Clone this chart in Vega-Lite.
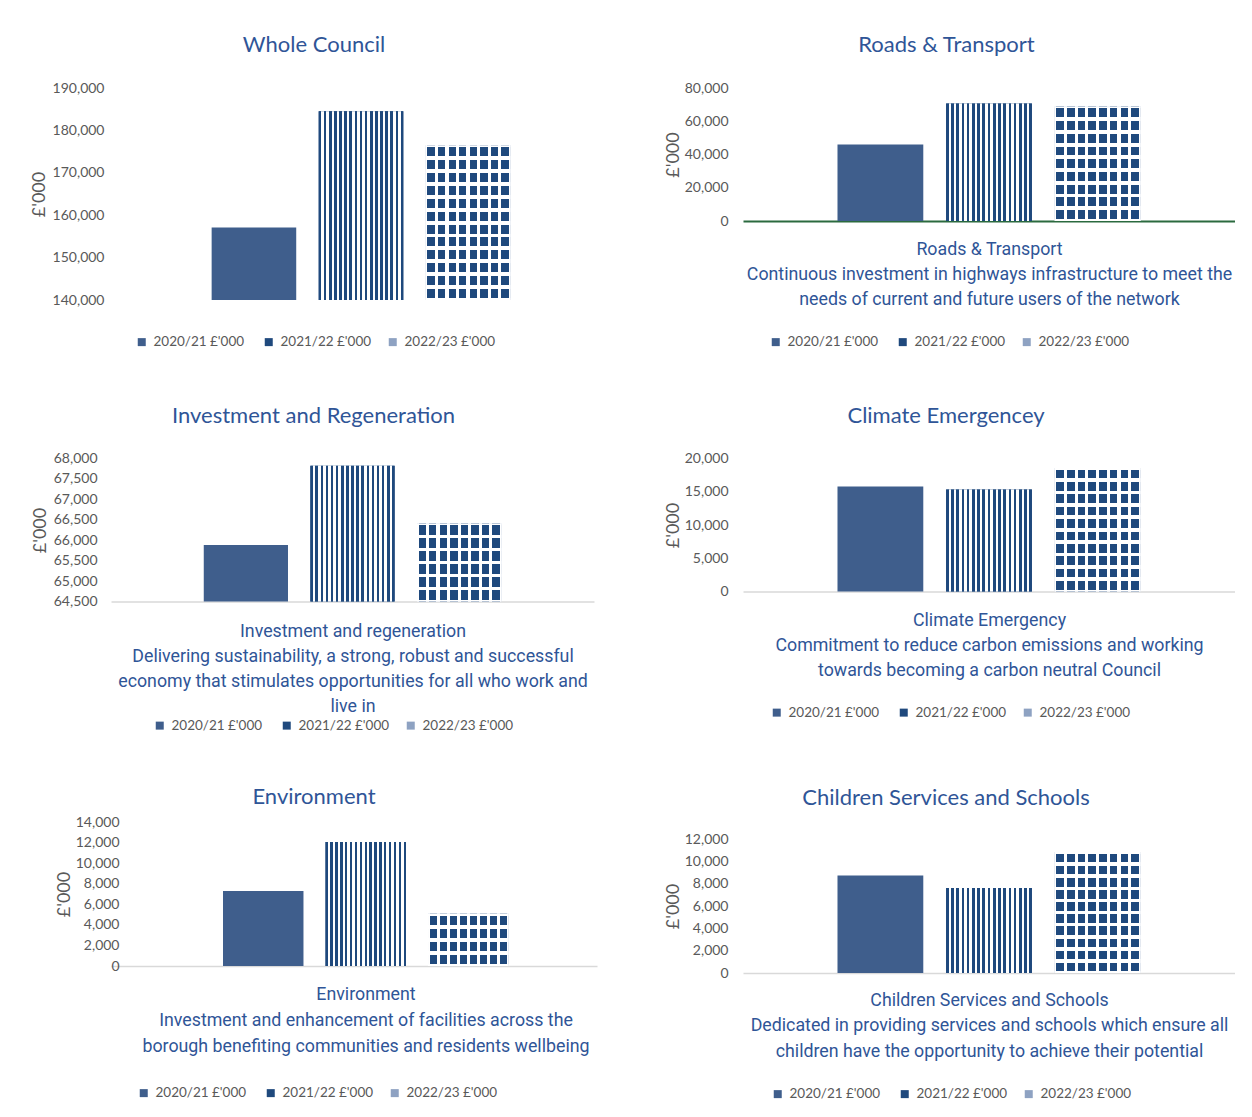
{
"$schema": "https://vega.github.io/schema/vega-lite/v6.json",
"background": "white",
"padding": {"left": 30, "top": 34, "right": 0, "bottom": 0},
"columns": 2,
"align": "none",
"spacing": {"row": 53.5, "column": 53},
"resolve": {"scale": {"color": "independent"}, "legend": {"color": "independent"}},
"config": {
 "font": "Lato",
 "view": {"stroke": null},
 "title": {"font": "Lato", "fontSize": 22, "fontWeight": "normal", "color": "#2f5597", "anchor": "middle", "frame": "group", "offset": 23},
 "axisX": {"labels": false, "ticks": false, "grid": false, "domainColor": "#d9d9d9", "domainWidth": 1.5, "titleFont": "Roboto", "titleFontSize": 17.8, "titleColor": "#2f5597", "titleFontWeight": "normal", "titleLineHeight": 25, "titlePadding": 18},
 "axisY": {"domain": false, "ticks": false, "grid": false, "labelFont": "Lato", "labelFontSize": 14, "labelColor": "#595959", "titleFont": "Lato", "titleFontSize": 18, "titleColor": "#595959", "titleFontWeight": "normal", "labelPadding": 14},
 "legend": {"labelFont": "Lato", "labelFontSize": 13.5, "labelColor": "#595959", "symbolType": "square", "symbolSize": 64, "symbolStrokeWidth": 0, "labelOffset": 5, "columnPadding": 14},
 "style": {
  "stripes": {"color": {"gradient": "linear", "x1": 0, "y1": 0, "x2": 1, "y2": 0, "stops": [
   {"offset":0,"color":"#1f497d"},{"offset":0.0303,"color":"#1f497d"},{"offset":0.0303,"color":"#fff"},{"offset":0.0606,"color":"#fff"},
   {"offset":0.0606,"color":"#1f497d"},{"offset":0.0909,"color":"#1f497d"},{"offset":0.0909,"color":"#fff"},{"offset":0.1212,"color":"#fff"},
   {"offset":0.1212,"color":"#1f497d"},{"offset":0.1515,"color":"#1f497d"},{"offset":0.1515,"color":"#fff"},{"offset":0.1818,"color":"#fff"},
   {"offset":0.1818,"color":"#1f497d"},{"offset":0.2121,"color":"#1f497d"},{"offset":0.2121,"color":"#fff"},{"offset":0.2424,"color":"#fff"},
   {"offset":0.2424,"color":"#1f497d"},{"offset":0.2727,"color":"#1f497d"},{"offset":0.2727,"color":"#fff"},{"offset":0.303,"color":"#fff"},
   {"offset":0.303,"color":"#1f497d"},{"offset":0.3333,"color":"#1f497d"},{"offset":0.3333,"color":"#fff"},{"offset":0.3636,"color":"#fff"},
   {"offset":0.3636,"color":"#1f497d"},{"offset":0.3939,"color":"#1f497d"},{"offset":0.3939,"color":"#fff"},{"offset":0.4242,"color":"#fff"},
   {"offset":0.4242,"color":"#1f497d"},{"offset":0.4545,"color":"#1f497d"},{"offset":0.4545,"color":"#fff"},{"offset":0.4848,"color":"#fff"},
   {"offset":0.4848,"color":"#1f497d"},{"offset":0.5152,"color":"#1f497d"},{"offset":0.5152,"color":"#fff"},{"offset":0.5455,"color":"#fff"},
   {"offset":0.5455,"color":"#1f497d"},{"offset":0.5758,"color":"#1f497d"},{"offset":0.5758,"color":"#fff"},{"offset":0.6061,"color":"#fff"},
   {"offset":0.6061,"color":"#1f497d"},{"offset":0.6364,"color":"#1f497d"},{"offset":0.6364,"color":"#fff"},{"offset":0.6667,"color":"#fff"},
   {"offset":0.6667,"color":"#1f497d"},{"offset":0.697,"color":"#1f497d"},{"offset":0.697,"color":"#fff"},{"offset":0.7273,"color":"#fff"},
   {"offset":0.7273,"color":"#1f497d"},{"offset":0.7576,"color":"#1f497d"},{"offset":0.7576,"color":"#fff"},{"offset":0.7879,"color":"#fff"},
   {"offset":0.7879,"color":"#1f497d"},{"offset":0.8182,"color":"#1f497d"},{"offset":0.8182,"color":"#fff"},{"offset":0.8485,"color":"#fff"},
   {"offset":0.8485,"color":"#1f497d"},{"offset":0.8788,"color":"#1f497d"},{"offset":0.8788,"color":"#fff"},{"offset":0.9091,"color":"#fff"},
   {"offset":0.9091,"color":"#1f497d"},{"offset":0.9394,"color":"#1f497d"},{"offset":0.9394,"color":"#fff"},{"offset":0.9697,"color":"#fff"},
   {"offset":0.9697,"color":"#1f497d"},{"offset":1,"color":"#1f497d"}]}},
  "cols": {"color": {"gradient": "linear", "x1": 0, "y1": 0, "x2": 1, "y2": 0, "stops": [
   {"offset":0,"color":"#fff"},{"offset":0.01875,"color":"#fff"},{"offset":0.01875,"color":"#1f497d"},{"offset":0.10625,"color":"#1f497d"},
   {"offset":0.10625,"color":"#fff"},{"offset":0.14375,"color":"#fff"},{"offset":0.14375,"color":"#1f497d"},{"offset":0.23125,"color":"#1f497d"},
   {"offset":0.23125,"color":"#fff"},{"offset":0.26875,"color":"#fff"},{"offset":0.26875,"color":"#1f497d"},{"offset":0.35625,"color":"#1f497d"},
   {"offset":0.35625,"color":"#fff"},{"offset":0.39375,"color":"#fff"},{"offset":0.39375,"color":"#1f497d"},{"offset":0.48125,"color":"#1f497d"},
   {"offset":0.48125,"color":"#fff"},{"offset":0.51875,"color":"#fff"},{"offset":0.51875,"color":"#1f497d"},{"offset":0.60625,"color":"#1f497d"},
   {"offset":0.60625,"color":"#fff"},{"offset":0.64375,"color":"#fff"},{"offset":0.64375,"color":"#1f497d"},{"offset":0.73125,"color":"#1f497d"},
   {"offset":0.73125,"color":"#fff"},{"offset":0.76875,"color":"#fff"},{"offset":0.76875,"color":"#1f497d"},{"offset":0.85625,"color":"#1f497d"},
   {"offset":0.85625,"color":"#fff"},{"offset":0.89375,"color":"#fff"},{"offset":0.89375,"color":"#1f497d"},{"offset":0.98125,"color":"#1f497d"},
   {"offset":0.98125,"color":"#fff"},{"offset":1,"color":"#fff"}]}},
  "r12": {"color": {"gradient": "linear", "x1": 0, "y1": 0, "x2": 0, "y2": 1, "stops": [
   {"offset":0,"color":"#fff"},{"offset":0.0125,"color":"#fff"},{"offset":0.0125,"color":"rgba(255,255,255,0)"},{"offset":0.0708,"color":"rgba(255,255,255,0)"},
   {"offset":0.0708,"color":"#fff"},{"offset":0.0958,"color":"#fff"},{"offset":0.0958,"color":"rgba(255,255,255,0)"},{"offset":0.1542,"color":"rgba(255,255,255,0)"},
   {"offset":0.1542,"color":"#fff"},{"offset":0.1792,"color":"#fff"},{"offset":0.1792,"color":"rgba(255,255,255,0)"},{"offset":0.2375,"color":"rgba(255,255,255,0)"},
   {"offset":0.2375,"color":"#fff"},{"offset":0.2625,"color":"#fff"},{"offset":0.2625,"color":"rgba(255,255,255,0)"},{"offset":0.3208,"color":"rgba(255,255,255,0)"},
   {"offset":0.3208,"color":"#fff"},{"offset":0.3458,"color":"#fff"},{"offset":0.3458,"color":"rgba(255,255,255,0)"},{"offset":0.4042,"color":"rgba(255,255,255,0)"},
   {"offset":0.4042,"color":"#fff"},{"offset":0.4292,"color":"#fff"},{"offset":0.4292,"color":"rgba(255,255,255,0)"},{"offset":0.4875,"color":"rgba(255,255,255,0)"},
   {"offset":0.4875,"color":"#fff"},{"offset":0.5125,"color":"#fff"},{"offset":0.5125,"color":"rgba(255,255,255,0)"},{"offset":0.5708,"color":"rgba(255,255,255,0)"},
   {"offset":0.5708,"color":"#fff"},{"offset":0.5958,"color":"#fff"},{"offset":0.5958,"color":"rgba(255,255,255,0)"},{"offset":0.6542,"color":"rgba(255,255,255,0)"},
   {"offset":0.6542,"color":"#fff"},{"offset":0.6792,"color":"#fff"},{"offset":0.6792,"color":"rgba(255,255,255,0)"},{"offset":0.7375,"color":"rgba(255,255,255,0)"},
   {"offset":0.7375,"color":"#fff"},{"offset":0.7625,"color":"#fff"},{"offset":0.7625,"color":"rgba(255,255,255,0)"},{"offset":0.8208,"color":"rgba(255,255,255,0)"},
   {"offset":0.8208,"color":"#fff"},{"offset":0.8458,"color":"#fff"},{"offset":0.8458,"color":"rgba(255,255,255,0)"},{"offset":0.9042,"color":"rgba(255,255,255,0)"},
   {"offset":0.9042,"color":"#fff"},{"offset":0.9292,"color":"#fff"},{"offset":0.9292,"color":"rgba(255,255,255,0)"},{"offset":0.9875,"color":"rgba(255,255,255,0)"},
   {"offset":0.9875,"color":"#fff"},{"offset":1,"color":"#fff"}]}},
  "r10": {"color": {"gradient": "linear", "x1": 0, "y1": 0, "x2": 0, "y2": 1, "stops": [
   {"offset":0,"color":"#fff"},{"offset":0.015,"color":"#fff"},{"offset":0.015,"color":"rgba(255,255,255,0)"},{"offset":0.085,"color":"rgba(255,255,255,0)"},
   {"offset":0.085,"color":"#fff"},{"offset":0.115,"color":"#fff"},{"offset":0.115,"color":"rgba(255,255,255,0)"},{"offset":0.185,"color":"rgba(255,255,255,0)"},
   {"offset":0.185,"color":"#fff"},{"offset":0.215,"color":"#fff"},{"offset":0.215,"color":"rgba(255,255,255,0)"},{"offset":0.285,"color":"rgba(255,255,255,0)"},
   {"offset":0.285,"color":"#fff"},{"offset":0.315,"color":"#fff"},{"offset":0.315,"color":"rgba(255,255,255,0)"},{"offset":0.385,"color":"rgba(255,255,255,0)"},
   {"offset":0.385,"color":"#fff"},{"offset":0.415,"color":"#fff"},{"offset":0.415,"color":"rgba(255,255,255,0)"},{"offset":0.485,"color":"rgba(255,255,255,0)"},
   {"offset":0.485,"color":"#fff"},{"offset":0.515,"color":"#fff"},{"offset":0.515,"color":"rgba(255,255,255,0)"},{"offset":0.585,"color":"rgba(255,255,255,0)"},
   {"offset":0.585,"color":"#fff"},{"offset":0.615,"color":"#fff"},{"offset":0.615,"color":"rgba(255,255,255,0)"},{"offset":0.685,"color":"rgba(255,255,255,0)"},
   {"offset":0.685,"color":"#fff"},{"offset":0.715,"color":"#fff"},{"offset":0.715,"color":"rgba(255,255,255,0)"},{"offset":0.785,"color":"rgba(255,255,255,0)"},
   {"offset":0.785,"color":"#fff"},{"offset":0.815,"color":"#fff"},{"offset":0.815,"color":"rgba(255,255,255,0)"},{"offset":0.885,"color":"rgba(255,255,255,0)"},
   {"offset":0.885,"color":"#fff"},{"offset":0.915,"color":"#fff"},{"offset":0.915,"color":"rgba(255,255,255,0)"},{"offset":0.985,"color":"rgba(255,255,255,0)"},
   {"offset":0.985,"color":"#fff"},{"offset":1,"color":"#fff"}]}},
  "r9": {"color": {"gradient": "linear", "x1": 0, "y1": 0, "x2": 0, "y2": 1, "stops": [
   {"offset":0,"color":"#fff"},{"offset":0.0167,"color":"#fff"},{"offset":0.0167,"color":"rgba(255,255,255,0)"},{"offset":0.0944,"color":"rgba(255,255,255,0)"},
   {"offset":0.0944,"color":"#fff"},{"offset":0.1278,"color":"#fff"},{"offset":0.1278,"color":"rgba(255,255,255,0)"},{"offset":0.2056,"color":"rgba(255,255,255,0)"},
   {"offset":0.2056,"color":"#fff"},{"offset":0.2389,"color":"#fff"},{"offset":0.2389,"color":"rgba(255,255,255,0)"},{"offset":0.3167,"color":"rgba(255,255,255,0)"},
   {"offset":0.3167,"color":"#fff"},{"offset":0.35,"color":"#fff"},{"offset":0.35,"color":"rgba(255,255,255,0)"},{"offset":0.4278,"color":"rgba(255,255,255,0)"},
   {"offset":0.4278,"color":"#fff"},{"offset":0.4611,"color":"#fff"},{"offset":0.4611,"color":"rgba(255,255,255,0)"},{"offset":0.5389,"color":"rgba(255,255,255,0)"},
   {"offset":0.5389,"color":"#fff"},{"offset":0.5722,"color":"#fff"},{"offset":0.5722,"color":"rgba(255,255,255,0)"},{"offset":0.65,"color":"rgba(255,255,255,0)"},
   {"offset":0.65,"color":"#fff"},{"offset":0.6833,"color":"#fff"},{"offset":0.6833,"color":"rgba(255,255,255,0)"},{"offset":0.7611,"color":"rgba(255,255,255,0)"},
   {"offset":0.7611,"color":"#fff"},{"offset":0.7944,"color":"#fff"},{"offset":0.7944,"color":"rgba(255,255,255,0)"},{"offset":0.8722,"color":"rgba(255,255,255,0)"},
   {"offset":0.8722,"color":"#fff"},{"offset":0.9056,"color":"#fff"},{"offset":0.9056,"color":"rgba(255,255,255,0)"},{"offset":0.9833,"color":"rgba(255,255,255,0)"},
   {"offset":0.9833,"color":"#fff"},{"offset":1,"color":"#fff"}]}},
  "r6": {"color": {"gradient": "linear", "x1": 0, "y1": 0, "x2": 0, "y2": 1, "stops": [
   {"offset":0,"color":"#fff"},{"offset":0.025,"color":"#fff"},{"offset":0.025,"color":"rgba(255,255,255,0)"},{"offset":0.1417,"color":"rgba(255,255,255,0)"},
   {"offset":0.1417,"color":"#fff"},{"offset":0.1917,"color":"#fff"},{"offset":0.1917,"color":"rgba(255,255,255,0)"},{"offset":0.3083,"color":"rgba(255,255,255,0)"},
   {"offset":0.3083,"color":"#fff"},{"offset":0.3583,"color":"#fff"},{"offset":0.3583,"color":"rgba(255,255,255,0)"},{"offset":0.475,"color":"rgba(255,255,255,0)"},
   {"offset":0.475,"color":"#fff"},{"offset":0.525,"color":"#fff"},{"offset":0.525,"color":"rgba(255,255,255,0)"},{"offset":0.6417,"color":"rgba(255,255,255,0)"},
   {"offset":0.6417,"color":"#fff"},{"offset":0.6917,"color":"#fff"},{"offset":0.6917,"color":"rgba(255,255,255,0)"},{"offset":0.8083,"color":"rgba(255,255,255,0)"},
   {"offset":0.8083,"color":"#fff"},{"offset":0.8583,"color":"#fff"},{"offset":0.8583,"color":"rgba(255,255,255,0)"},{"offset":0.975,"color":"rgba(255,255,255,0)"},
   {"offset":0.975,"color":"#fff"},{"offset":1,"color":"#fff"}]}},
  "r4": {"color": {"gradient": "linear", "x1": 0, "y1": 0, "x2": 0, "y2": 1, "stops": [
   {"offset":0,"color":"#fff"},{"offset":0.0375,"color":"#fff"},{"offset":0.0375,"color":"rgba(255,255,255,0)"},{"offset":0.2125,"color":"rgba(255,255,255,0)"},
   {"offset":0.2125,"color":"#fff"},{"offset":0.2875,"color":"#fff"},{"offset":0.2875,"color":"rgba(255,255,255,0)"},{"offset":0.4625,"color":"rgba(255,255,255,0)"},
   {"offset":0.4625,"color":"#fff"},{"offset":0.5375,"color":"#fff"},{"offset":0.5375,"color":"rgba(255,255,255,0)"},{"offset":0.7125,"color":"rgba(255,255,255,0)"},
   {"offset":0.7125,"color":"#fff"},{"offset":0.7875,"color":"#fff"},{"offset":0.7875,"color":"rgba(255,255,255,0)"},{"offset":0.9625,"color":"rgba(255,255,255,0)"},
   {"offset":0.9625,"color":"#fff"},{"offset":1,"color":"#fff"}]}}
 }
},
"concat": [
  {"width": 500, "height": 212,
   "title": {"text": "Whole Council", "dx": -47, "offset": 24},
   "data": {"values": [{"year": "2020/21  £'000", "value": 157100}, {"year": "2021/22 £'000", "value": 184500}, {"year": "2022/23 £'000", "value": 176500}]},
   "encoding": {
    "x": {"field": "year", "type": "nominal", "scale": {"paddingInner": 0.21, "paddingOuter": 0.94}, "axis": null},
    "y": {"field": "value", "type": "quantitative", "scale": {"domain": [140000, 190000], "nice": false, "zero": false}, "axis": {"values": [140000, 150000, 160000, 170000, 180000, 190000], "format": ",d", "title": "£'000", "labelPadding": 7, "titlePadding": 4}},
    "y2": {"datum": 140000}
   },
   "layer": [
    {"mark": {"type": "bar"}, "encoding": {"color": {"field": "year", "type": "nominal", "scale": {"domain": ["2020/21  £'000", "2021/22 £'000", "2022/23 £'000"], "range": ["#3f5e8c", "#1f497d", "#8ea2c2"]}, "legend": {"orient": "none", "legendX": 22, "legendY": 245, "padding": 2, "direction": "horizontal", "title": null}}}},
    {"transform": [{"filter": {"field": "year", "equal": "2021/22 £'000"}}], "mark": {"type": "bar", "style": "stripes"}},
    {"transform": [{"filter": {"field": "year", "equal": "2022/23 £'000"}}], "mark": {"type": "bar", "style": "cols"}},
    {"transform": [{"filter": {"field": "year", "equal": "2022/23 £'000"}}], "mark": {"type": "bar", "style": "r12"}}
   ]},
  {"width": 492, "height": 133,
   "title": {"text": "Roads & Transport", "dx": -42.5, "offset": 24},
   "data": {"values": [{"year": "2020/21  £'000", "value": 46000}, {"year": "2021/22 £'000", "value": 70700}, {"year": "2022/23 £'000", "value": 68900}]},
   "encoding": {
    "x": {"field": "year", "type": "nominal", "scale": {"paddingInner": 0.21, "paddingOuter": 0.87}, "axis": {"domainColor": "#2b6a3f", "domainWidth": 2, "titlePadding": 19, "title": ["Roads & Transport", "Continuous investment in highways infrastructure to meet the", "needs of current and future users of the network"]}},
    "y": {"field": "value", "type": "quantitative", "scale": {"domain": [0, 80000], "nice": false}, "axis": {"values": [0, 20000, 40000, 60000, 80000], "format": ",d", "title": "£'000", "labelPadding": 15, "titlePadding": 2}}
   },
   "layer": [
    {"mark": {"type": "bar"}, "encoding": {"color": {"field": "year", "type": "nominal", "scale": {"domain": ["2020/21  £'000", "2021/22 £'000", "2022/23 £'000"], "range": ["#3f5e8c", "#1f497d", "#8ea2c2"]}, "legend": {"orient": "none", "legendX": 24, "legendY": 245, "padding": 2, "direction": "horizontal", "title": null}}}},
    {"transform": [{"filter": {"field": "year", "equal": "2021/22 £'000"}}], "mark": {"type": "bar", "style": "stripes"}},
    {"transform": [{"filter": {"field": "year", "equal": "2022/23 £'000"}}], "mark": {"type": "bar", "style": "cols"}},
    {"transform": [{"filter": {"field": "year", "equal": "2022/23 £'000"}}], "mark": {"type": "bar", "style": "r9"}}
   ]},
  {"width": 483, "height": 143,
   "title": {"text": "Investment and Regeneration", "dx": -39, "offset": 24},
   "data": {"values": [{"year": "2020/21  £'000", "value": 65880}, {"year": "2021/22 £'000", "value": 67820}, {"year": "2022/23 £'000", "value": 66410}]},
   "encoding": {
    "x": {"field": "year", "type": "nominal", "scale": {"paddingInner": 0.21, "paddingOuter": 0.87}, "axis": {"titlePadding": 21, "title": ["Investment and regeneration", "Delivering sustainability, a strong, robust and successful", "economy that stimulates opportunities for all who work and", "live in"]}},
    "y": {"field": "value", "type": "quantitative", "scale": {"domain": [64500, 68000], "nice": false, "zero": false}, "axis": {"values": [64500, 65000, 65500, 66000, 66500, 67000, 67500, 68000], "format": ",d", "title": "£'000", "labelPadding": 14, "titlePadding": 4}},
    "y2": {"datum": 64500}
   },
   "layer": [
    {"mark": {"type": "bar"}, "encoding": {"color": {"field": "year", "type": "nominal", "scale": {"domain": ["2020/21  £'000", "2021/22 £'000", "2022/23 £'000"], "range": ["#3f5e8c", "#1f497d", "#8ea2c2"]}, "legend": {"orient": "none", "legendX": 42, "legendY": 260, "direction": "horizontal", "title": null}}}},
    {"transform": [{"filter": {"field": "year", "equal": "2021/22 £'000"}}], "mark": {"type": "bar", "style": "stripes"}},
    {"transform": [{"filter": {"field": "year", "equal": "2022/23 £'000"}}], "mark": {"type": "bar", "style": "cols"}},
    {"transform": [{"filter": {"field": "year", "equal": "2022/23 £'000"}}], "mark": {"type": "bar", "style": "r6"}}
   ]},
  {"width": 492, "height": 133,
   "title": {"text": "Climate Emergencey", "dx": -43, "offset": 24},
   "data": {"values": [{"year": "2020/21  £'000", "value": 15790}, {"year": "2021/22 £'000", "value": 15340}, {"year": "2022/23 £'000", "value": 18590}]},
   "encoding": {
    "x": {"field": "year", "type": "nominal", "scale": {"paddingInner": 0.21, "paddingOuter": 0.87}, "axis": {"titlePadding": 20, "title": ["Climate Emergency", "Commitment to reduce carbon emissions and working", "towards becoming a carbon neutral Council"]}},
    "y": {"field": "value", "type": "quantitative", "scale": {"domain": [0, 20000], "nice": false}, "axis": {"values": [0, 5000, 10000, 15000, 20000], "format": ",d", "title": "£'000", "labelPadding": 15, "titlePadding": 2}}
   },
   "layer": [
    {"mark": {"type": "bar"}, "encoding": {"color": {"field": "year", "type": "nominal", "scale": {"domain": ["2020/21  £'000", "2021/22 £'000", "2022/23 £'000"], "range": ["#3f5e8c", "#1f497d", "#8ea2c2"]}, "legend": {"orient": "none", "legendX": 15, "legendY": 235, "padding": 12, "direction": "horizontal", "title": null}}}},
    {"transform": [{"filter": {"field": "year", "equal": "2021/22 £'000"}}], "mark": {"type": "bar", "style": "stripes"}},
    {"transform": [{"filter": {"field": "year", "equal": "2022/23 £'000"}}], "mark": {"type": "bar", "style": "cols"}},
    {"transform": [{"filter": {"field": "year", "equal": "2022/23 £'000"}}], "mark": {"type": "bar", "style": "r10"}}
   ]},
  {"width": 486, "height": 144,
   "title": {"text": "Environment", "dx": -40, "offset": 6},
   "data": {"values": [{"year": "2020/21  £'000", "value": 7290}, {"year": "2021/22 £'000", "value": 12050}, {"year": "2022/23 £'000", "value": 5090}]},
   "encoding": {
    "x": {"field": "year", "type": "nominal", "scale": {"paddingInner": 0.215, "paddingOuter": 0.978, "align": 0.5586}, "axis": {"titlePadding": 19, "titleLineHeight": 26, "titleX": 254.5, "title": ["Environment", "Investment and enhancement of facilities across the", "borough benefiting communities and residents wellbeing"]}},
    "y": {"field": "value", "type": "quantitative", "scale": {"domain": [0, 14000], "nice": false}, "axis": {"values": [0, 2000, 4000, 6000, 8000, 10000, 12000, 14000], "format": ",d", "title": "£'000", "labelPadding": -8, "titlePadding": 2}}
   },
   "layer": [
    {"mark": {"type": "bar"}, "encoding": {"color": {"field": "year", "type": "nominal", "scale": {"domain": ["2020/21  £'000", "2021/22 £'000", "2022/23 £'000"], "range": ["#3f5e8c", "#1f497d", "#8ea2c2"]}, "legend": {"orient": "none", "legendX": 26, "legendY": 264, "direction": "horizontal", "title": null}}}},
    {"transform": [{"filter": {"field": "year", "equal": "2021/22 £'000"}}], "mark": {"type": "bar", "style": "stripes"}},
    {"transform": [{"filter": {"field": "year", "equal": "2022/23 £'000"}}], "mark": {"type": "bar", "style": "cols"}},
    {"transform": [{"filter": {"field": "year", "equal": "2022/23 £'000"}}], "mark": {"type": "bar", "style": "r4"}}
   ]},
  {"width": 492, "height": 134,
   "title": {"text": "Children Services and Schools", "dx": -43, "offset": 22.5},
   "data": {"values": [{"year": "2020/21  £'000", "value": 8740}, {"year": "2021/22 £'000", "value": 7610}, {"year": "2022/23 £'000", "value": 10830}]},
   "encoding": {
    "x": {"field": "year", "type": "nominal", "scale": {"paddingInner": 0.21, "paddingOuter": 0.87}, "axis": {"titlePadding": 18, "titleLineHeight": 25.5, "title": ["Children Services and Schools", "Dedicated in providing services and schools which  ensure all", "children  have the  opportunity  to achieve their potential"]}},
    "y": {"field": "value", "type": "quantitative", "scale": {"domain": [0, 12000], "nice": false}, "axis": {"values": [0, 2000, 4000, 6000, 8000, 10000, 12000], "format": ",d", "title": "£'000", "labelPadding": 15, "titlePadding": 2}}
   },
   "layer": [
    {"mark": {"type": "bar"}, "encoding": {"color": {"field": "year", "type": "nominal", "scale": {"domain": ["2020/21  £'000", "2021/22 £'000", "2022/23 £'000"], "range": ["#3f5e8c", "#1f497d", "#8ea2c2"]}, "legend": {"orient": "none", "legendX": 28, "legendY": 248, "direction": "horizontal", "title": null}}}},
    {"transform": [{"filter": {"field": "year", "equal": "2021/22 £'000"}}], "mark": {"type": "bar", "style": "stripes"}},
    {"transform": [{"filter": {"field": "year", "equal": "2022/23 £'000"}}], "mark": {"type": "bar", "style": "cols"}},
    {"transform": [{"filter": {"field": "year", "equal": "2022/23 £'000"}}], "mark": {"type": "bar", "style": "r10"}}
   ]}
]
}
